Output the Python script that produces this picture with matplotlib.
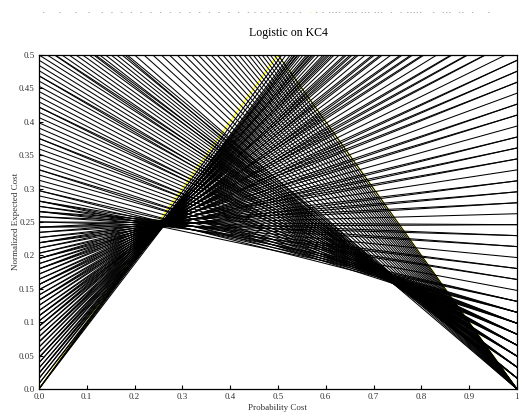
import matplotlib
matplotlib.use("Agg")
import matplotlib.pyplot as plt

plt.rcParams["font.family"] = ["Liberation Serif", "DejaVu Serif"]

# ROC operating points of the classifier, as counts of false positives / false negatives
n_neg = 128
n_pos = 61

# thresholds where every positive is caught
fp_all_pos = [128, 126, 124, 122, 120, 118, 116, 114, 112, 110, 108, 106, 104,
              102, 100, 98, 96, 94, 92, 90, 88, 86, 84, 82, 80, 78]
fn_all_pos = [0] * 26

# a few positives missed
fp_few_fn = [78, 77, 76, 75, 74, 73, 72,
             72, 71, 70, 69, 68, 67, 66,
             66, 65, 64, 63, 62, 61, 60,
             60, 59, 58, 57, 56, 55, 54,
             54, 53, 52, 51, 50, 49, 48,
             48, 47, 46, 45, 44, 43, 42,
             42, 41, 40, 39, 38, 38, 37, 36]
fn_few_fn = [1, 1, 1, 1, 1, 1, 1,
             2, 2, 2, 2, 2, 2, 2,
             3, 3, 3, 3, 3, 3, 3,
             4, 4, 4, 4, 4, 4, 4,
             5, 5, 5, 5, 5, 5, 5,
             6, 6, 6, 6, 6, 6, 6,
             7, 7, 7, 7, 7, 8, 8, 8]

# strict thresholds
fp_strict = [36, 36, 35, 35, 34, 34, 34, 33, 33, 32, 32, 31, 31, 31, 30, 30, 29, 29,
             28, 28, 28, 27, 27, 26, 26, 25, 25, 25, 24, 24, 23, 23, 23, 22, 22,
             21, 21, 20, 20, 20, 19, 19, 18, 18, 17, 17, 17, 16, 16, 15, 15,
             14, 14, 14, 13, 13, 12, 12, 12, 11, 11, 10, 10, 9, 9, 9, 8, 8, 7, 7,
             6, 6, 6, 5, 5, 4, 4, 3, 3, 3, 2, 2, 1, 1, 0, 0, 0, 0]
fn_strict = [9, 10, 10, 11, 11, 12, 13, 13, 14, 14, 15, 15, 16, 17, 17, 18, 18, 19,
             19, 20, 21, 21, 22, 22, 23, 23, 24, 25, 25, 26, 26, 27, 28, 28, 29,
             29, 30, 30, 31, 32, 32, 33, 33, 34, 34, 35, 36, 36, 37, 37, 38,
             38, 39, 40, 40, 41, 41, 42, 43, 43, 44, 44, 45, 45, 46, 47, 47, 48, 48, 49,
             49, 50, 51, 51, 52, 52, 53, 53, 54, 55, 55, 56, 56, 57, 57, 58, 59, 60]

fp_counts = fp_all_pos + fp_few_fn + fp_strict
fn_counts = fn_all_pos + fn_few_fn + fn_strict

# trivial classifiers
trivial_x = [0.0, 0.5, 1.0]
trivial_y = [0.0, 0.5, 0.0]

xticks = [0.0, 0.1, 0.2, 0.3, 0.4, 0.5, 0.6, 0.7, 0.8, 0.9, 1.0]
xtick_labels = ["0.0", "0.1", "0.2", "0.3", "0.4", "0.5", "0.6", "0.7", "0.8", "0.9", "1"]
yticks = [0.0, 0.05, 0.1, 0.15, 0.2, 0.25, 0.3, 0.35, 0.4, 0.45, 0.5]
ytick_labels = ["0.0", "0.05", "0.1", "0.15", "0.2", "0.25", "0.3", "0.35", "0.4", "0.45", "0.5"]

fig = plt.figure(figsize=(5.19, 4.16), dpi=100)
ax = fig.add_axes([0.075, 0.065, 0.921, 0.803])

ax.plot(trivial_x, trivial_y, color="#ffff00", linewidth=1.0)
for fp, fn in zip(fp_counts, fn_counts):
    fpr = fp / n_neg
    fnr = fn / n_pos
    ax.plot([0, 1], [fpr, fnr], color="black", linewidth=0.75)

ax.set_xlim(0, 1)
ax.set_ylim(0, 0.5)
ax.set_xticks(xticks)
ax.set_xticklabels(xtick_labels)
ax.set_yticks(yticks)
ax.set_yticklabels(ytick_labels)
ax.tick_params(direction="in", length=3, width=0.8, labelsize=6.5, colors="black",
               labelcolor="#333333", pad=3)
for s in ax.spines.values():
    s.set_linewidth(0.9)

ax.set_xlabel("Probability Cost", fontsize=6.5, color="#333333", labelpad=2)
ax.set_ylabel("Normalized Expected Cost", fontsize=6.5, color="#333333")
ax.yaxis.set_label_coords(-0.04, 0.5)

fig.text(0.555, 0.92, "Logistic on KC4", ha="center", va="center", fontsize=8.5)

# remnants of marks clipped at the top edge
fig.text(0.08, 0.97, "-    -    -   -   -  -  -  -  -  -  -  -  -  -  -  -  -  -  -  - - - - - - - - -",
         fontsize=4, color="#555555", va="center", family="DejaVu Sans Mono")
fig.text(0.593, 0.97, "-", fontsize=4, color="#e8e800", va="center", family="DejaVu Sans Mono")
fig.text(0.607, 0.97, "- - ---- ---- --- ---  -  - -----   -  ---  --  -    -",
         fontsize=4, color="#555555", va="center", family="DejaVu Sans Mono")

fig.savefig("out.png", dpi=100)
